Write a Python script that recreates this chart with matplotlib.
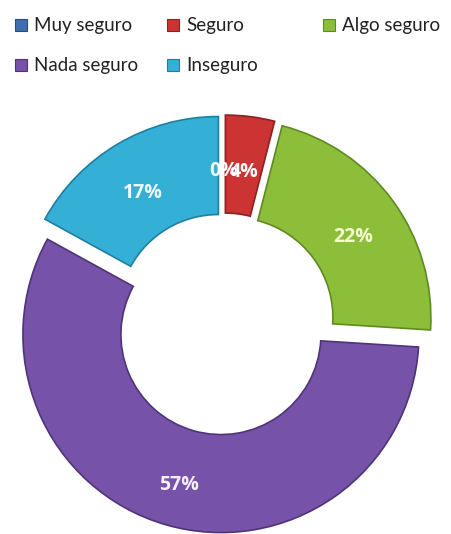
import matplotlib
matplotlib.use("Agg")
import matplotlib.pyplot as plt
from matplotlib.patches import Rectangle

categories = ["Muy seguro", "Seguro", "Algo seguro", "Nada seguro", "Inseguro"]
values = [0, 4, 22, 57, 17]
colors = ["#3F6DB0", "#CC3333", "#8DBE3A", "#7652A8", "#34AFD6"]
edge_colors = ["#2A4C80", "#8E2020", "#5F8A22", "#4E3478", "#1F7FA0"]
label_colors = ["#FFFFFF", "#FFFFFF", "#F4FFD0", "#F4F0FF", "#F2FBFF"]

W, H = 451, 534
fig = plt.figure(figsize=(W / 100, H / 100), dpi=100)
ax = fig.add_axes([0, 0, 1, 1])

R_OUT = 198
RING = 98
cx, cy = 224, H - 324
explode = [11] * len(values)

wedges, texts, autotexts = ax.pie(
    values, startangle=90, counterclock=False, radius=R_OUT,
    center=(cx, cy), explode=explode, colors=colors,
    wedgeprops=dict(width=RING, linewidth=1.2),
    autopct="%1.0f%%", pctdistance=149 / R_OUT,
    textprops=dict(fontsize=14, fontweight="bold", family=["Open Sans", "DejaVu Sans"]),
)
for w, v, ec in zip(wedges, values, edge_colors):
    w.set_edgecolor(ec)
    if v == 0:
        w.set_visible(False)
for t, c in zip(autotexts, label_colors):
    x, y = t.get_position()
    t.set_position((x, y - 7))
    t.set_color(c)

ax.set_xlim(0, W)
ax.set_ylim(0, H)
ax.set_aspect("equal")
ax.axis("off")

# legend
leg_pos = [(15, 25), (167, 25), (323, 25), (15, 65), (167, 65)]
for (lx, ly), name, col, ec in zip(leg_pos, categories, colors, edge_colors):
    ax.add_patch(Rectangle((lx, H - ly - 6), 12, 12, facecolor=col, edgecolor=ec, linewidth=0.8))
    ax.text(lx + 19, H - ly, name, fontsize=13.5, color="#222222",
            va="center", ha="left", family=["Lato", "DejaVu Sans"])

fig.savefig("out.png", dpi=100)
